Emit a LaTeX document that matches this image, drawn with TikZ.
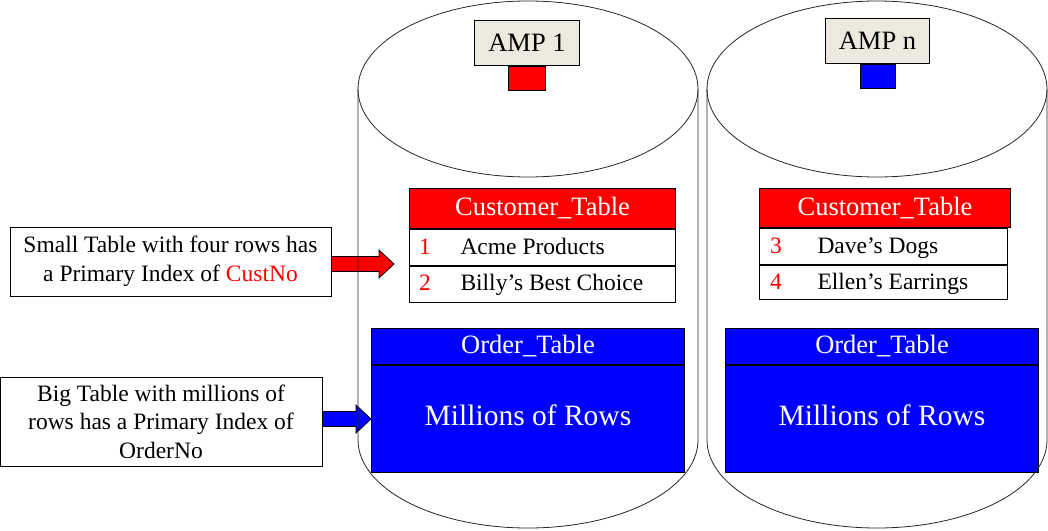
\documentclass[tikz,border=0pt]{standalone}
\usepackage{fontspec}
\setmainfont{Liberation Serif}
\usetikzlibrary{positioning, calc}
\usepackage{xcolor}
\definecolor{ampbeige}{HTML}{ECEADF}
\definecolor{ampred}{HTML}{FF0000}
\definecolor{ampblue}{HTML}{0000FF}

% fat arrow from one node to another, outlined in black
\newcommand{\fatarrow}[3]{%
  \draw[fill=#3, line width=0.8pt] let \p1=(#1), \p2=(#2) in
    (\x1,\y2+7.5pt) -- (\x2-15pt,\y2+7.5pt) -- (\x2-15pt,\y2+14pt) -- (\x2,\y2)
    -- (\x2-15pt,\y2-14pt) -- (\x2-15pt,\y2-7.5pt) -- (\x1,\y2-7.5pt) -- cycle;}

\begin{document}
\begin{tikzpicture}[
    x=1pt, y=1pt, line width=1pt,
    txt/.style={font=\fontsize{23.5}{28.5}\selectfont, inner sep=0pt},
    note/.style={draw, fill=white, align=center, txt},
    amp/.style={draw, fill=ampbeige, minimum height=45pt, inner sep=0pt, font=\fontsize{26.5}{30}\selectfont},
    tag/.style={draw, fill=#1, minimum height=24pt, inner sep=0pt},
    head/.style={draw, fill=#1, text=white, inner sep=0pt, font=\fontsize{26.5}{30}\selectfont},
    row/.style={draw, minimum height=36pt, inner sep=0pt},
    num/.style={txt, text=ampred, anchor=base},
    item/.style={txt, anchor=base west},
    big/.style={draw, fill=ampblue, text=white, minimum height=107pt, inner sep=0pt, font=\fontsize{29.5}{34}\selectfont},
    cyl/.style={line width=0.8pt, draw=black!85},
]
\useasboundingbox (0,0) rectangle (1048,-530);

% AMP labels
\node[amp, minimum width=105pt, anchor=north west] (amp1) at (474,-20) {AMP 1};
\node[tag=ampred, minimum width=37pt, below=0pt of amp1] (amp1tag) {};
\node[amp, minimum width=104pt, anchor=north west] (ampn) at (825,-18) {AMP n};
\node[tag=ampblue, minimum width=35pt, below=0pt of ampn] (ampntag) {};

% customer tables
\node[head=ampred, minimum width=266pt, minimum height=40pt, anchor=north west] (cust1) at (409,-188) {Customer\_Table};
\node[row, minimum width=266pt, below=0pt of cust1] (cust1a) {};
\node[row, minimum width=266pt, below=0pt of cust1a] (cust1b) {};
\node[num] (n1) at ([xshift=16pt, yshift=-7pt]cust1a.west) {1};
\node[item] (c1) at ([xshift=51pt, yshift=-7pt]cust1a.west) {Acme Products};
\node[num] (n2) at ([xshift=16pt, yshift=-6pt]cust1b.west) {2};
\node[item] (c2) at ([xshift=51pt, yshift=-6pt]cust1b.west) {Billy’s Best Choice};

\node[head=ampred, minimum width=251pt, minimum height=39pt, anchor=north west] (cust2) at (759,-188) {Customer\_Table};
\node[row, minimum width=248pt, anchor=north west] (cust2a) at (cust2.south west) {};
\node[row, minimum width=248pt, minimum height=34pt, below=0pt of cust2a] (cust2b) {};
\node[num] (n3) at ([xshift=17pt, yshift=-7pt]cust2a.west) {3};
\node[item] (c3) at ([xshift=58pt, yshift=-7pt]cust2a.west) {Dave’s Dogs};
\node[num] (n4) at ([xshift=17pt, yshift=-7pt]cust2b.west) {4};
\node[item] (c4) at ([xshift=58pt, yshift=-7pt]cust2b.west) {Ellen’s Earrings};

% order tables
\node[head=ampblue, minimum width=313pt, minimum height=36pt, anchor=north west] (ord1) at (371,-328) {Order\_Table};
\node[big, minimum width=313pt, below=0pt of ord1] (ord1rows) {\raisebox{8pt}{Millions of Rows}};
\node[head=ampblue, minimum width=313pt, minimum height=36pt, anchor=north west] (ord2) at (725,-328) {Order\_Table};
\node[big, minimum width=313pt, below=0pt of ord2] (ord2rows) {\raisebox{8pt}{Millions of Rows}};

% notes on the left
\node[note, minimum width=321pt, minimum height=69pt] (smallnote) at (170.5,-261.5)
  {Small Table with four rows has\\a Primary Index of \textcolor{ampred}{CustNo}};
\node[note, minimum width=322pt, minimum height=89pt] (bignote) at (161,-421.5)
  {Big Table with millions of\\rows has a Primary Index of\\OrderNo};

\coordinate (custtip) at ([xshift=-15pt, yshift=2pt]cust1a.south west);
\fatarrow{smallnote.east}{custtip}{ampred}
\fatarrow{bignote.east}{ord1rows.west}{ampblue}

% the two disks
\foreach \cx in {528, 877} {
  \draw[cyl] (\cx-170,-89) -- (\cx-170,-440)
    arc[start angle=180, end angle=360, x radius=170pt, y radius=88pt] -- (\cx+170,-89);
  \draw[cyl] (\cx,-89) ellipse[x radius=170pt, y radius=88pt];
}
\end{tikzpicture}
\end{document}
